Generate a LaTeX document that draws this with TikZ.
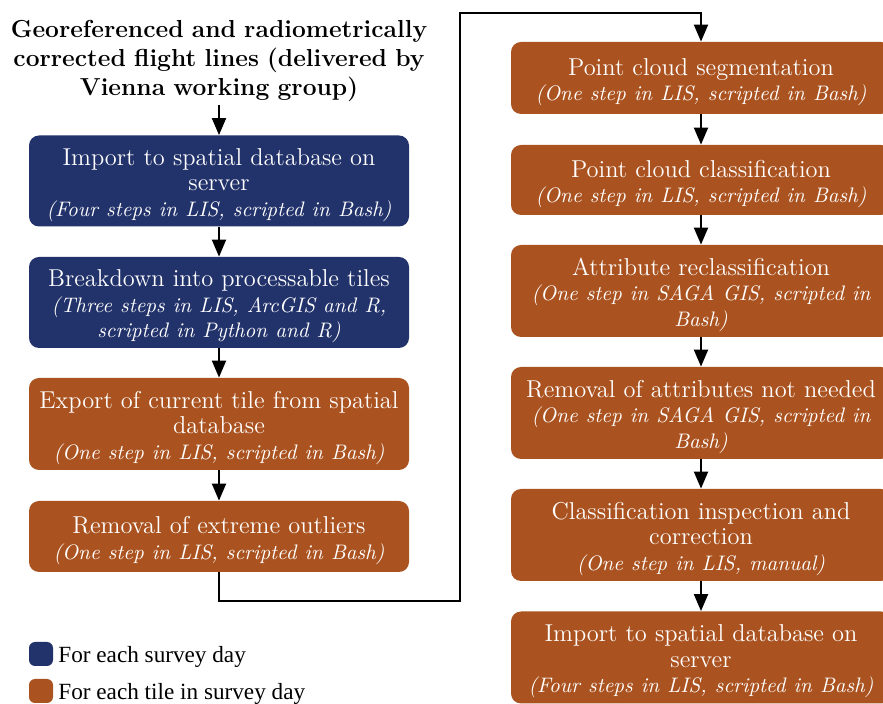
\documentclass[tikz,border=0pt]{standalone}
\usepackage{fontspec}
\newfontfamily\legendfont{Liberation Serif}
\usetikzlibrary{arrows.meta}
\definecolor{dayblue}{HTML}{22326A}
\definecolor{tileorange}{HTML}{AA5320}
\tikzset{
  stepbox/.style={rounded corners=5pt, minimum width=190pt, text width=186pt,
    align=center, text=white, inner sep=0pt,
    font=\fontsize{12.2}{12.8}\selectfont},
  daybox/.style={stepbox, fill=dayblue},
  tilebox/.style={stepbox, fill=tileorange},
  flow/.style={-{Triangle[length=8.5pt,width=7pt]}, line width=1pt},
  legendsq/.style={rounded corners=3pt, minimum size=12pt, inner sep=0pt},
  legendtxt/.style={anchor=base west, inner sep=0pt,
    font=\legendfont\fontsize{11.6}{13}\selectfont},
}
% tall strut opening the first line of every step box
\newcommand{\topstrut}{\rule{0pt}{12.5pt}}
\newcommand{\tooldesc}[1]{{\fontsize{10.5}{12.8}\itshape\selectfont #1}}
\begin{document}
\begin{tikzpicture}[x=0.5pt, y=-0.5pt]
  \clip (0,0) rectangle (883,704);
  \useasboundingbox (0,0) rectangle (883,704);

  % input data
  \node[align=center, inner sep=0pt, text width=220pt,
        font=\bfseries\fontsize{12.3}{14.3}\selectfont] (title) at (219,61)
    {Georeferenced and radiometrically\\ corrected flight lines (delivered by\\ Vienna working group)};

  % left column
  \node[daybox, minimum height=45.5pt] (imp) at (219,181)
    {\topstrut Import to spatial database on\\ server\\ \tooldesc{(Four steps in LIS, scripted in Bash)}};
  \node[daybox, minimum height=45.5pt] (tiles) at (219,302.5)
    {\topstrut Breakdown into processable tiles\\ \tooldesc{(Three steps in LIS, ArcGIS and R,}\\ \tooldesc{scripted in Python and R)}};
  \node[tilebox, minimum height=46pt] (exp) at (219,424)
    {\topstrut Export of current tile from spatial\\ database\\ \tooldesc{(One step in LIS, scripted in Bash)}};
  \node[tilebox, minimum height=35.5pt] (outl) at (219,536.5)
    {\topstrut Removal of extreme outliers\\ \tooldesc{(One step in LIS, scripted in Bash)}};

  % right column
  \node[tilebox, minimum height=36pt] (seg) at (701,78)
    {\topstrut Point cloud segmentation\\ \tooldesc{(One step in LIS, scripted in Bash)}};
  \node[tilebox, minimum height=35pt] (cls) at (701,180)
    {\topstrut Point cloud classification\\ \tooldesc{(One step in LIS, scripted in Bash)}};
  \node[tilebox, minimum height=46pt] (recl) at (701,291)
    {\topstrut Attribute reclassification\\ \tooldesc{(One step in SAGA GIS, scripted in}\\ \tooldesc{Bash)}};
  \node[tilebox, minimum height=46pt] (rem) at (701,413)
    {\topstrut Removal of attributes not needed\\ \tooldesc{(One step in SAGA GIS, scripted in}\\ \tooldesc{Bash)}};
  \node[tilebox, minimum height=46pt] (insp) at (701,535)
    {\topstrut Classification inspection and\\ correction\\ \tooldesc{(One step in LIS, manual)}};
  \node[tilebox, minimum height=46pt] (exp2) at (701,657.5)
    {\topstrut Import to spatial database on\\ server\\ \tooldesc{(Four steps in LIS, scripted in Bash)}};

  % connectors
  \coordinate (titlefoot) at (219,105);
  \coordinate (turnA) at (460,601);
  \coordinate (turnB) at (460,13);
  \draw[flow] (titlefoot) -- (imp.north);
  \draw[flow] (imp.south) -- (tiles.north);
  \draw[flow] (tiles.south) -- (exp.north);
  \draw[flow] (exp.south) -- (outl.north);
  \draw[flow] (outl.south) |- (turnA) -- (turnB) -| (seg.north);
  \draw[flow] (seg.south) -- (cls.north);
  \draw[flow] (cls.south) -- (recl.north);
  \draw[flow] (recl.south) -- (rem.north);
  \draw[flow] (rem.south) -- (insp.north);
  \draw[flow] (insp.south) -- (exp2.north);

  % legend
  \node[legendsq, fill=dayblue] (lgday) at (41,654) {};
  \node[legendtxt] (lgdaytxt) at (58,662) {For each survey day};
  \node[legendsq, fill=tileorange] (lgtile) at (41,691) {};
  \node[legendtxt] (lgtiletxt) at (58,699) {For each tile in survey day};
\end{tikzpicture}
\end{document}
